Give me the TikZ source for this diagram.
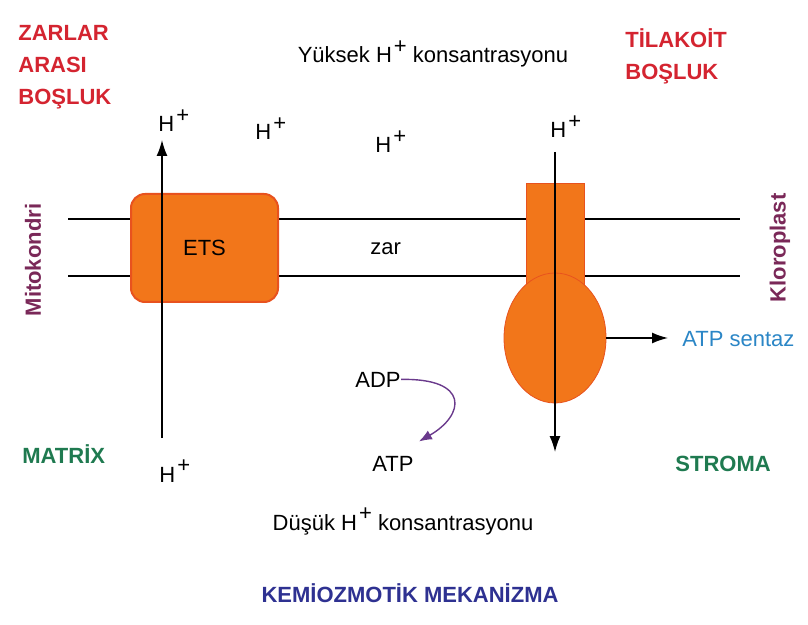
\documentclass[tikz,border=0pt]{standalone}
\usepackage{fontspec}
\setmainfont{Liberation Sans}
\usetikzlibrary{arrows.meta, positioning, shapes.geometric}

\definecolor{turuncu}{HTML}{F2761A}
\definecolor{turuncuKenar}{HTML}{E8521E}
\definecolor{kirmizi}{HTML}{D42430}
\definecolor{mor}{HTML}{7A2858}
\definecolor{yesil}{HTML}{1F7A50}
\definecolor{mavi}{HTML}{2B86C6}
\definecolor{lacivert}{HTML}{2E3191}
\definecolor{okmor}{HTML}{6A3A8C}

\newcommand{\Hplus}{H\kern1pt\raisebox{0.45em}{+}}

\begin{document}
\begin{tikzpicture}[x=0.5pt, y=-0.5pt,
  yazi/.style={font=\fontsize{11}{16}\selectfont, inner sep=0pt},
  kalin/.style={yazi, font=\fontsize{11}{16}\selectfont\bfseries},
  ok/.style={-{Latex[length=8pt,width=5.5pt]}, line width=0.75pt},
  adpok/.style={-{Latex[length=6.5pt,width=5pt]}, okmor, line width=0.7pt},
  zarcizgi/.style={line width=0.75pt},
  protein/.style={fill=turuncu, draw=turuncuKenar}]
  \useasboundingbox (0,0) rectangle (808,625);

  % parametreler (piksel)
  \def\zarUst{219}   % zarin ust cizgisi
  \def\zarAlt{276}   % zarin alt cizgisi

  % zar
  \draw[zarcizgi] (68,\zarUst) -- (740,\zarUst);
  \draw[zarcizgi] (68,\zarAlt) -- (740,\zarAlt);

  % ETS ve ATP sentaz
  \node[protein, line width=1pt, rounded corners=7pt,
        minimum width=73.5pt, minimum height=54pt, yazi] (ets) at (204.5,248) {ETS};
  \node[protein, line width=0.4pt, minimum width=29pt, minimum height=58.5pt] (govde) at (555,241.5) {};
  \node[protein, line width=0.4pt, ellipse, minimum width=51pt, minimum height=65pt] (bas) at (555,338) {};

  % H+ akislari
  \coordinate (solAlt) at (162,438);
  \coordinate (solUst) at (162,140);
  \coordinate (sagUst) at (555,152);
  \coordinate (sagAlt) at (555,452);
  \draw[ok] (solAlt) -- (solUst);
  \draw[ok] (sagUst) -- (sagAlt);

  \node[yazi, anchor=base west] (hSolUst) at (158,132) {\Hplus};
  \node[yazi, anchor=base west] (hSolAlt) at (159,482) {\Hplus};
  \node[yazi, anchor=base west] (hOrta1) at (255,140) {\Hplus};
  \node[yazi, anchor=base west] (hOrta2) at (375,153) {\Hplus};
  \node[yazi, anchor=base west] (hSagUst) at (550,138) {\Hplus};

  % yazilar
  \node[yazi, anchor=base] (yuksek) at (433,63) {Yüksek \Hplus\ konsantrasyonu};
  \node[yazi, anchor=base] (dusuk) at (403,530) {Düşük \Hplus\ konsantrasyonu};
  \node[yazi, anchor=base west] (zar) at (370,255) {zar};
  \node[yazi, anchor=base west] (adp) at (355,387) {ADP};
  \node[yazi, anchor=base west] (atp) at (372,471) {ATP};
  \node[yazi, mavi, anchor=base west] (sentaz) at (682,347) {ATP sentaz};

  \draw[ok] (bas.east) -- ([xshift=-7pt]bas.east -| sentaz.west);
  \draw[adpok] (adp.east) .. controls (470,378) and (465,415) .. ([shift={(5,-14)}]atp.north east);

  % bolgeler
  \node[kalin, kirmizi, align=left, anchor=north west] (zarlarArasi) at (18,25) {ZARLAR\\ARASI\\BOŞLUK};
  \node[kalin, kirmizi, align=left, anchor=north west] (tilakoit) at (625,28) {TİLAKOİT\\BOŞLUK};
  \node[kalin, mor, rotate=90] (mitokondri) at (33,260) {Mitokondri};
  \node[kalin, mor, rotate=90] (kloroplast) at (780,248) {Kloroplast};
  \node[kalin, yesil, anchor=base west] (matrix) at (22,463) {MATRİX};
  \node[kalin, yesil, anchor=base west] (stroma) at (675,471) {STROMA};
  \node[kalin, lacivert, anchor=base] (baslik) at (410,602) {KEMİOZMOTİK MEKANİZMA};
\end{tikzpicture}
\end{document}
